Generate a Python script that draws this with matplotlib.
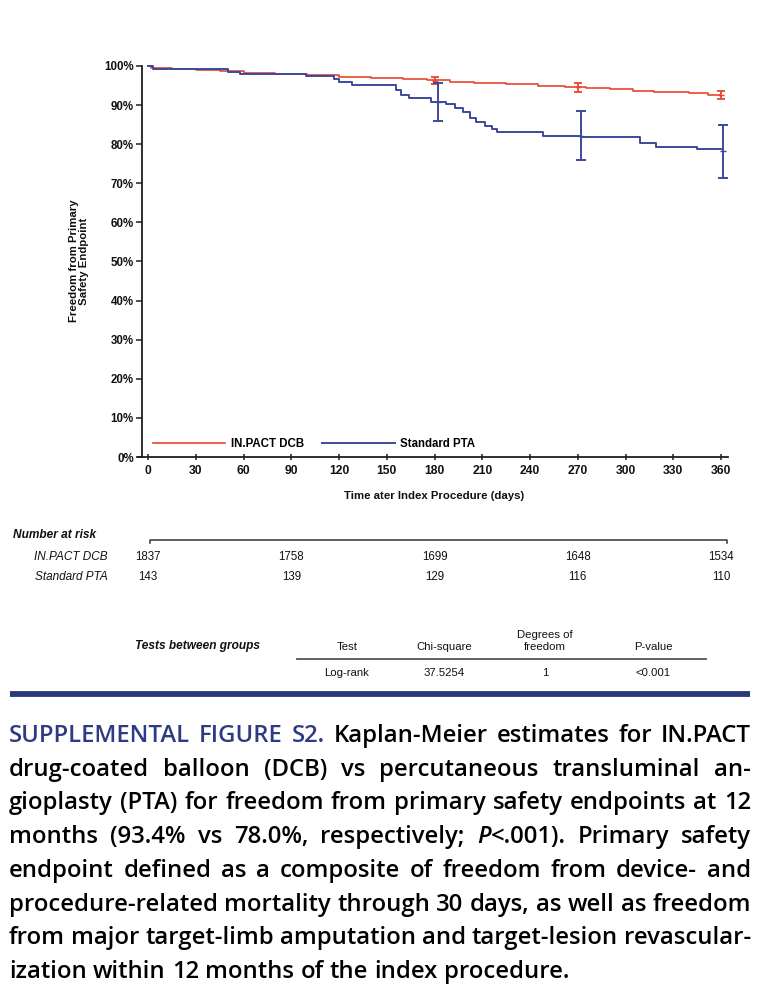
import matplotlib
matplotlib.use('Agg')
import matplotlib.pyplot as plt
from matplotlib.lines import Line2D
from matplotlib.transforms import blended_transform_factory

W, H = 768, 994

# ---------------- data ----------------
dcb_days = [0, 2, 15, 30, 45, 60, 80, 100, 120, 140, 160, 175, 190, 205, 225, 245, 262, 275, 290, 305, 318, 340, 352, 360]
dcb_surv = [100, 99.6, 99.3, 99.0, 98.7, 98.3, 98.0, 97.6, 97.3, 96.9, 96.6, 96.3, 95.9, 95.6, 95.3, 95.0, 94.7, 94.4, 94.0, 93.7, 93.3, 93.0, 92.7, 92.7]
pta_days = [0, 3, 50, 58, 99, 117, 120, 128, 156, 159, 164, 178, 187, 193, 198, 202, 206, 212, 216, 219, 248, 272, 309, 319, 345, 360]
pta_surv = [100, 99.2, 98.5, 98.0, 97.4, 96.8, 96.0, 95.1, 93.9, 92.6, 91.7, 90.9, 90.2, 89.2, 88.2, 86.8, 85.8, 84.7, 83.9, 83.2, 82.2, 81.8, 80.2, 79.4, 78.7, 78.7]

dcb_ci_days = [180, 270, 360]
dcb_ci_mid = [96.2, 94.6, 92.6]
dcb_ci_lo = [95.3, 93.4, 91.5]
dcb_ci_hi = [97.1, 95.6, 93.7]
pta_ci_days = [182, 272, 361]
pta_ci_mid = [90.9, 82.0, 78.2]
pta_ci_lo = [86.0, 76.0, 71.3]
pta_ci_hi = [95.6, 88.5, 84.9]

x_ticks = list(range(0, 361, 30))
y_ticks = list(range(0, 101, 10))
y_tick_labels = [f"{v}%" for v in y_ticks]

series_names = ["IN.PACT DCB", "Standard PTA"]
risk_days = [0, 90, 180, 270, 360]
dcb_risk = [1837, 1758, 1699, 1648, 1534]
pta_risk = [143, 139, 129, 116, 110]

test_headers = ["Test", "Chi-square", "Degrees of\nfreedom", "P-value"]
test_row = ["Log-rank", "37.5254", "1", "<0.001"]

caption_lines = [
    "SUPPLEMENTAL FIGURE S2. Kaplan-Meier estimates for IN.PACT",
    "drug-coated balloon (DCB) vs percutaneous transluminal an-",
    "gioplasty (PTA) for freedom from primary safety endpoints at 12",
    "months (93.4% vs 78.0%, respectively; P<.001). Primary safety",
    "endpoint defined as a composite of freedom from device- and",
    "procedure-related mortality through 30 days, as well as freedom",
    "from major target-limb amputation and target-lesion revascular-",
    "ization within 12 months of the index procedure.",
]

RED = '#e8452f'
BLUE = '#3b4a9b'
NAVY = '#2d3c82'
AX_COL = '#1e1e1e'
SANS = ['Liberation Sans', 'DejaVu Sans']

plt.rcParams['font.family'] = SANS

fig = plt.figure(figsize=(W / 100, H / 100), dpi=100)
fig.patch.set_facecolor('white')

def fy(y):
    return 1 - y / H

def fx(x):
    return x / W

# ---------------- KM axes ----------------
ax = fig.add_axes([fx(138), fy(457), 590 / W, 391 / H])
ax.set_xlim(-6.3, 364.4)
ax.set_ylim(0, 100)
for s in ['top', 'right']:
    ax.spines[s].set_visible(False)
ax.spines['left'].set_position(('data', -3.8))
for s in ['left', 'bottom']:
    ax.spines[s].set_linewidth(1.3)
    ax.spines[s].set_color(AX_COL)

ax.step(dcb_days, dcb_surv, where='post', color=RED, lw=1.2, clip_on=False, zorder=3)
ax.step(pta_days, pta_surv, where='post', color=BLUE, lw=1.4, clip_on=False, zorder=3)

ax.errorbar(dcb_ci_days, dcb_ci_mid,
            yerr=[[m - l for m, l in zip(dcb_ci_mid, dcb_ci_lo)],
                  [h - m for m, h in zip(dcb_ci_mid, dcb_ci_hi)]],
            fmt='_', color=RED, ms=5, elinewidth=1.3, capsize=3, capthick=1.3, zorder=4)
ax.errorbar(pta_ci_days, pta_ci_mid,
            yerr=[[m - l for m, l in zip(pta_ci_mid, pta_ci_lo)],
                  [h - m for m, h in zip(pta_ci_mid, pta_ci_hi)]],
            fmt='_', color=BLUE, ms=5, elinewidth=1.4, capsize=3.5, capthick=1.4, zorder=4)

ax.set_xticks(x_ticks)
ax.set_xticklabels([str(v) for v in x_ticks])
ax.set_yticks(y_ticks)
ax.set_yticklabels(y_tick_labels)
ax.tick_params(axis='x', direction='inout', length=5, width=1.1, color=AX_COL, pad=3,
               labelsize=8.7, labelcolor='#111111')
ax.tick_params(axis='y', direction='out', length=4, width=1.1, color=AX_COL, pad=2,
               labelsize=8.3, labelcolor='#111111')
for lab in ax.get_xticklabels() + ax.get_yticklabels():
    lab.set_fontweight('bold')

handles = [Line2D([], [], color=RED, lw=1.2), Line2D([], [], color=BLUE, lw=1.4)]
leg = ax.legend(handles, series_names, loc='center left', ncol=2, frameon=False,
                bbox_to_anchor=(fx(147), fy(444)), bbox_transform=fig.transFigure,
                borderpad=0, handlelength=6.3, handletextpad=0.45, columnspacing=1.6,
                prop={'family': SANS, 'weight': 'bold', 'size': 8.3})

fig.text(fx(79), fy(261), "Freedom from Primary\nSafety Endpoint", rotation=90,
         ha='center', va='center', fontsize=8.2, fontweight='bold', linespacing=1.1,
         color='#111111')
fig.text(fx(434), fy(496), "Time ater Index Procedure (days)", ha='center', va='center',
         fontsize=8.2, fontweight='bold', color='#111111')

# ---------------- number at risk ----------------
trans_x = blended_transform_factory(ax.transData, fig.transFigure)
fig.text(fx(13), fy(535), "Number at risk", ha='left', va='center', fontsize=8.6,
         fontweight='bold', fontstyle='italic', color='#111111')
fig.add_artist(Line2D([fx(150), fx(150), fx(727), fx(727)],
                      [fy(543), fy(540), fy(540), fy(543)],
                      transform=fig.transFigure, color='#333333', lw=1.1))
fig.text(fx(108), fy(557), series_names[0], ha='right', va='center', fontsize=8.5,
         fontstyle='italic', color='#111111')
fig.text(fx(108), fy(577), series_names[1], ha='right', va='center', fontsize=8.5,
         fontstyle='italic', color='#111111')
for d, a, b in zip(risk_days, dcb_risk, pta_risk):
    fig.text(d, fy(557), str(a), transform=trans_x, ha='center', va='center',
             fontsize=8.3, color='#111111')
    fig.text(d, fy(577), str(b), transform=trans_x, ha='center', va='center',
             fontsize=8.3, color='#111111')

# ---------------- tests table ----------------
fig.text(fx(135), fy(646), "Tests between groups", ha='left', va='center', fontsize=8.6,
         fontweight='bold', fontstyle='italic', color='#111111')
col_x = [347, 444, 545, 653]
for cx, hd, rv in zip(col_x, test_headers, test_row):
    fig.text(fx(cx), fy(652), hd, ha='center', va='bottom', fontsize=8.2,
             color='#111111', linespacing=1.2)
    fig.text(fx(cx), fy(673), rv, ha='center', va='center', fontsize=8.2, color='#111111')
fig.add_artist(Line2D([fx(297), fx(706)], [fy(659), fy(659)], transform=fig.transFigure,
                      color='#555555', lw=1.3))

# separator bar
fig.add_artist(Line2D([fx(10), fx(750)], [fy(694), fy(694)], transform=fig.transFigure,
                      color='#2b3a7b', lw=4.2, solid_capstyle='butt'))

# ---------------- caption (justified) ----------------
renderer = fig.canvas.get_renderer()
CAP_FAM = ['Open Sans', 'DejaVu Sans']
CAP_W = 'semibold'
left_px, right_px = 9, 751

def seg_width(txt, size, style='normal'):
    t = fig.text(0, 0, txt, fontsize=size, family=CAP_FAM, fontstyle=style,
                 fontweight=CAP_W)
    w = t.get_window_extent(renderer).width
    t.remove()
    return w

def words_of(line_idx, line):
    out = []
    for wi, w in enumerate(line.split(' ')):
        if line_idx == 0 and wi < 3:
            out.append([(w, NAVY, 'normal')])
        elif w.startswith('P<'):
            out.append([('P', 'black', 'italic'), (w[1:], 'black', 'normal')])
        else:
            out.append([(w, 'black', 'normal')])
    return out

size = 16.0
space_w = seg_width('a a', size) - seg_width('aa', size)
max_nat = 0
for i, ln in enumerate(caption_lines[:-1]):
    ws = words_of(i, ln)
    tot = sum(seg_width(s, size, st) for w in ws for s, c, st in w) + space_w * 0.8 * (len(ws) - 1)
    max_nat = max(max_nat, tot)
size = size * (right_px - left_px) / max_nat * 0.995

baselines = [742, 775.7, 809.4, 843.1, 876.9, 910.6, 944.3, 978]
space_w = seg_width('a a', size) - seg_width('aa', size)
for i, ln in enumerate(caption_lines):
    ws = words_of(i, ln)
    widths = [[seg_width(s, size, st) for s, c, st in w] for w in ws]
    tot = sum(sum(w) for w in widths)
    if i < len(caption_lines) - 1 and len(ws) > 1:
        gap = (right_px - left_px - tot) / (len(ws) - 1)
    else:
        gap = space_w
    x = left_px
    for w, wl in zip(ws, widths):
        for (s, c, st), sw in zip(w, wl):
            fig.text(fx(x), fy(baselines[i]), s, fontsize=size, family=CAP_FAM,
                     fontstyle=st, fontweight=CAP_W, color=c, ha='left', va='baseline')
            x += sw
        x += gap

fig.savefig('out.png', dpi=100, facecolor='white')
